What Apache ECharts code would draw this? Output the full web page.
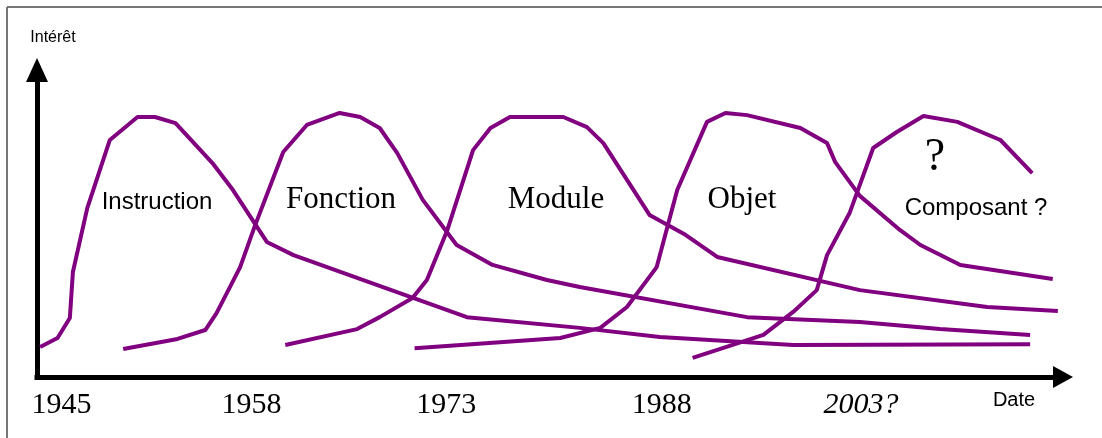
<!DOCTYPE html>
<html>
<head>
<meta charset="utf-8">
<script src="https://cdn.jsdelivr.net/npm/echarts@6/dist/echarts.min.js"></script>
<style>
  html, body { margin: 0; padding: 0; background: #fff; }
  #chart { width: 1102px; height: 438px; }
</style>
</head>
<body>
<div id="chart"></div>
<script>
// échelle de temps 0..100, intérêt 0..100
const instruction = [[0.3, 9.8], [2.0, 12.7], [3.2, 19.2], [3.5, 34.2], [4.9, 55.0], [7.1, 77.2], [9.8, 84.7], [11.5, 84.7], [13.5, 82.7], [17.1, 69.7], [19.1, 60.9], [22.4, 44.0], [25.0, 39.7], [41.9, 19.5], [52.9, 16.0], [60.7, 13.0], [73.7, 10.4], [96.8, 10.7]]
const fonction = [[8.4, 9.1], [13.7, 12.4], [16.4, 15.3], [17.5, 20.8], [19.8, 35.8], [21.2, 48.9], [24.0, 73.3], [26.3, 82.1], [29.5, 86.0], [31.5, 84.7], [33.4, 81.1], [35.1, 73.0], [37.6, 57.7], [40.9, 43.0], [44.4, 36.5], [49.7, 31.6], [52.9, 29.3], [69.2, 19.5], [80.2, 17.9], [88.0, 15.6], [96.8, 13.7]]
const module = [[24.2, 10.4], [31.2, 15.6], [33.4, 19.5], [36.6, 25.7], [38.0, 31.6], [40.0, 47.9], [42.5, 73.9], [44.2, 81.1], [46.1, 84.7], [51.3, 84.7], [53.6, 81.4], [55.2, 76.2], [59.7, 52.8], [63.2, 46.3], [66.3, 39.1], [80.2, 28.3], [92.6, 22.8], [99.5, 21.5]]
const objet = [[36.8, 9.4], [51.0, 12.7], [54.9, 16.0], [57.5, 22.8], [60.4, 35.8], [62.4, 60.9], [65.3, 83.1], [67.1, 86.0], [69.2, 85.3], [74.4, 81.1], [77.0, 76.2], [77.8, 70.0], [80.2, 59.0], [84.1, 47.9], [86.1, 43.0], [90.0, 36.5], [99.0, 31.9]]
const composant = [[63.9, 6.2], [70.8, 13.7], [73.7, 21.2], [76.0, 28.3], [77.0, 39.7], [79.2, 53.4], [81.5, 74.6], [83.8, 79.8], [86.4, 85.0], [89.7, 83.1], [93.9, 77.2], [97.0, 66.4]]

const yearTicks = [2.4, 20.9, 39.9, 60.9, 80.3]
const yearLabels = ['1945', '1958', '1973', '1988', '2003?']

const chart = echarts.init(document.getElementById('chart'))

function curve (data) {
  return {
    type: 'line',
    data: data,
    symbol: 'none',
    silent: true,
    lineStyle: { color: '#800080', width: 4, join: 'round' }
  }
}

chart.setOption({
  animation: false,
  grid: { left: 37, right: 39, top: 70, bottom: 61 },
  xAxis: {
    type: 'value',
    min: 0,
    max: 100,
    splitLine: { show: false },
    axisTick: { show: false },
    axisLine: {
      symbol: ['none', 'triangle'],
      symbolSize: [22, 20],
      lineStyle: { color: '#000', width: 5, cap: 'square' }
    },
    axisLabel: {
      customValues: yearTicks,
      margin: 13,
      fontFamily: 'Liberation Serif',
      fontSize: 30,
      color: '#000',
      formatter: (v) => {
        const i = yearTicks.indexOf(v)
        const t = yearLabels[i]
        return t.indexOf('?') >= 0 ? '{i|' + t + '}' : t
      },
      rich: {
        i: { fontFamily: 'Liberation Serif', fontSize: 30, fontStyle: 'italic', color: '#000' }
      }
    }
  },
  yAxis: {
    type: 'value',
    min: 0,
    max: 100,
    splitLine: { show: false },
    axisTick: { show: false },
    axisLabel: { show: false },
    axisLine: {
      symbol: ['none', 'triangle'],
      symbolSize: [22, 24],
      lineStyle: { color: '#000', width: 5, cap: 'square' }
    }
  },
  series: [
    curve(instruction),
    curve(fonction),
    curve(module),
    curve(objet),
    curve(composant)
  ],
  graphic: [
    // cadre gris en haut et à gauche
    { type: 'line', shape: { x1: 7, y1: 7, x2: 1102, y2: 7 }, style: { stroke: '#777', lineWidth: 2 } },
    { type: 'line', shape: { x1: 7, y1: 7, x2: 7, y2: 438 }, style: { stroke: '#777', lineWidth: 2 } },
    { type: 'text', x: 53, y: 38, style: { text: 'Intérêt', font: '16px Liberation Sans', fill: '#000', align: 'center', verticalAlign: 'middle' } },
    { type: 'text', x: 1014, y: 400, style: { text: 'Date', font: '20px Liberation Sans', fill: '#000', align: 'center', verticalAlign: 'middle' } },
    { type: 'text', x: 157, y: 202, style: { text: 'Instruction', font: '24px Liberation Sans', fill: '#000', align: 'center', verticalAlign: 'middle' } },
    { type: 'text', x: 341, y: 200, style: { text: 'Fonction', font: '31px Liberation Serif', fill: '#000', align: 'center', verticalAlign: 'middle' } },
    { type: 'text', x: 556, y: 200, style: { text: 'Module', font: '31px Liberation Serif', fill: '#000', align: 'center', verticalAlign: 'middle' } },
    { type: 'text', x: 742, y: 200, style: { text: 'Objet', font: '31px Liberation Serif', fill: '#000', align: 'center', verticalAlign: 'middle' } },
    { type: 'text', x: 935, y: 158, style: { text: '?', font: '46px Liberation Serif', fill: '#000', align: 'center', verticalAlign: 'middle' } },
    { type: 'text', x: 976, y: 208, style: { text: 'Composant ?', font: '24px Liberation Sans', fill: '#000', align: 'center', verticalAlign: 'middle' } }
  ]
})
</script>
</body>
</html>
